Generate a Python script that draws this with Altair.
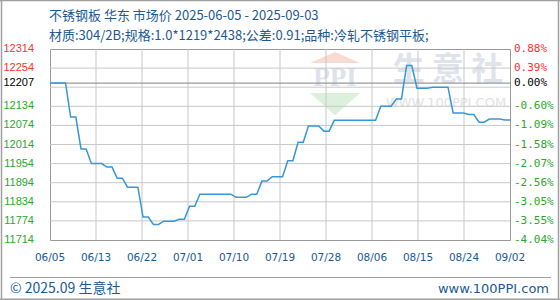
import altair as alt
import pandas as pd

# ---------------- data ----------------
start_date = "2025-06-05"
prices = [
    12207, 12207, 12207, 12207, 12100, 12100, 12000, 12000, 11954, 11954,
    11954, 11943, 11943, 11908, 11908, 11880, 11880, 11880, 11786, 11786,
    11763, 11763, 11773, 11773, 11773, 11779, 11779, 11820, 11820, 11858,
    11858, 11858, 11858, 11858, 11858, 11858, 11848, 11848, 11848, 11858,
    11858, 11899, 11899, 11913, 11913, 11913, 11963, 11963, 12021, 12021,
    12072, 12072, 12072, 12056, 12056, 12090, 12090, 12090, 12090, 12090,
    12090, 12090, 12090, 12090, 12134, 12134, 12134, 12157, 12157, 12262,
    12262, 12191, 12191, 12191, 12194, 12194, 12194, 12194, 12113, 12113,
    12113, 12108, 12108, 12084, 12084, 12094, 12094, 12094, 12091, 12091,
]
x_tick_labels = ["06/05", "06/13", "06/22", "07/01", "07/10", "07/19",
                 "07/28", "08/06", "08/15", "08/24", "09/02"]
y_label_values = [11714, 11774, 11834, 11894, 11954, 12014, 12074, 12134,
                  12207, 12254, 12314]
pct_labels = ["-4.04%", "-3.55%", "-3.05%", "-2.56%", "-2.07%", "-1.58%",
              "-1.09%", "-0.60%", "0.00%", "0.39%", "0.88%"]
grid_y = [11774, 11834, 11894, 11954, 12014, 12074, 12134, 12194, 12254]
base_price = 12207
y_min, y_max = 11714, 12314

title_text = "不锈钢板 华东 市场价 2025-06-05 - 2025-09-03"
subtitle_text = "材质:304/2B;规格:1.0*1219*2438;公差:0.91;品种:冷轧不锈钢平板;"
footer_left = "© 2025.09 生意社"
footer_right = "www.100PPI.com"

W, H = 460, 191
BLUE_TXT = "#1b5a94"
RED = "#ff3030"
GREEN = "#2aa82a"
BLACK = "#000000"
GRID = "#c8c8c8"

# ---------------- derived tables ----------------
days = list(range(len(prices)))
dates = pd.date_range(start_date, periods=len(prices), freq="D").strftime("%Y-%m-%d")
df = pd.DataFrame({"day": days, "price": prices, "date": dates})

n_int = len(x_tick_labels) - 1
step = (len(prices) - 1) / n_int
x_ticks = [round(i * step, 4) for i in range(n_int + 1)]
df_xlab = pd.DataFrame({"pos": x_ticks, "lab": x_tick_labels})
df_vgrid = pd.DataFrame({"x": x_ticks[1:-1]})
df_hgrid = pd.DataFrame({"y": grid_y})
df_base = pd.DataFrame({"y": [base_price]})
df_lab = pd.DataFrame({"v": y_label_values, "pct": pct_labels,
                       "txt": [str(v) for v in y_label_values]})
df_lab["col"] = [RED if v > base_price else (BLACK if v == base_price else GREEN)
                 for v in y_label_values]
one = alt.Data(values=[{}])

x_scale = alt.Scale(domain=[0, len(prices) - 1], nice=False, zero=False)
y_scale = alt.Scale(domain=[y_min, y_max], nice=False, zero=False)

# ---------------- watermark ----------------
wm_roof = alt.Chart(one).mark_point(
    shape="M-1,0L1,0L0,-0.44Z", filled=True, fill="#f8dcd4", strokeWidth=0,
    opacity=1, size=2500
).encode(x=alt.value(285), y=alt.value(14))
wm_ppi = alt.Chart(one).mark_text(
    font="Liberation Serif", fontSize=27, fontWeight="bold", color="#dde2ec",
    align="center", baseline="middle"
).encode(x=alt.value(285), y=alt.value(29), text=alt.value("PPI"))
wm_green = alt.Chart(one).mark_point(
    shape="M-1,0L1,0L0,0.89Z", filled=True, fill="#dcf0dc", strokeWidth=0,
    opacity=1, size=2500
).encode(x=alt.value(285), y=alt.value(44))
wm_name = alt.Chart(one).mark_text(
    font="Noto Sans CJK SC", fontSize=32, fontWeight="bold", color="#dfe3ec",
    align="center", baseline="middle"
).encode(x=alt.value(398), y=alt.value(21), text=alt.value("生  意  社"))
wm_url = alt.Chart(one).mark_text(
    font="DejaVu Sans", fontSize=13, color="#e2e2e2",
    align="center", baseline="middle"
).encode(x=alt.value(396), y=alt.value(54), text=alt.value("WWW.100PPI.COM"))

# ---------------- grid & baseline ----------------
hgrid = alt.Chart(df_hgrid).mark_rule(color=GRID, strokeWidth=1).encode(
    y=alt.Y("y:Q", scale=y_scale, axis=None))
vgrid = alt.Chart(df_vgrid).mark_rule(color=GRID, strokeWidth=1).encode(
    x=alt.X("x:Q", scale=x_scale, axis=None))
baseline = alt.Chart(df_base).mark_rule(
    color="#999999", strokeWidth=1.2
).encode(y=alt.Y("y:Q", scale=y_scale, axis=None))

# ---------------- price line ----------------
line = alt.Chart(df).mark_line(color="#3797d6", strokeWidth=1.5).encode(
    x=alt.X("day:Q", scale=x_scale, axis=None),
    y=alt.Y("price:Q", scale=y_scale, axis=None),
    tooltip=["date:N", "price:Q"],
)

# ---------------- tick labels as text marks ----------------
x_text = alt.Chart(df_xlab).mark_text(
    font="DejaVu Sans", fontSize=10.5, color=BLUE_TXT, align="center",
    baseline="middle"
).encode(
    x=alt.X("pos:Q", scale=x_scale, axis=None),
    y=alt.value(H + 18),
    text="lab:N",
)
left_text = alt.Chart(df_lab).mark_text(
    font="Liberation Sans", fontSize=11, align="right", baseline="middle"
).encode(
    x=alt.value(-16),
    y=alt.Y("v:Q", scale=y_scale, axis=None),
    text="txt:N",
    color=alt.Color("col:N", scale=None),
)
pct_text = alt.Chart(df_lab).mark_text(
    font="DejaVu Sans Mono", fontSize=11, align="left", baseline="middle"
).encode(
    x=alt.value(W + 4),
    y=alt.Y("v:Q", scale=y_scale, axis=None),
    text="pct:N",
    color=alt.Color("col:N", scale=None),
)

# ---------------- texts & frame ----------------
title = alt.Chart(one).mark_text(
    font="Noto Sans CJK SC", fontSize=13, color=BLUE_TXT, align="left",
    baseline="middle").encode(x=alt.value(-1), y=alt.value(-33),
                              text=alt.value(title_text))
subtitle = alt.Chart(one).mark_text(
    font="Noto Sans CJK SC", fontSize=13, color=BLUE_TXT, align="left",
    baseline="middle").encode(x=alt.value(-1), y=alt.value(-13),
                              text=alt.value(subtitle_text))
foot_line = alt.Chart(one).mark_rule(color="#a0a0a0", strokeWidth=1).encode(
    x=alt.value(-40), x2=alt.value(501), y=alt.value(228.5))
foot_l = alt.Chart(one).mark_text(
    font="Noto Sans CJK SC", fontSize=14, color=BLUE_TXT, align="left",
    baseline="middle").encode(x=alt.value(-40), y=alt.value(239.5),
                              text=alt.value(footer_left))
foot_r = alt.Chart(one).mark_text(
    font="DejaVu Sans", fontSize=13, color=BLUE_TXT, align="right",
    baseline="middle").encode(x=alt.value(499), y=alt.value(239.5),
                              text=alt.value(footer_right))
frame_l = alt.Chart(one).mark_rule(color="#a0a0a0", strokeWidth=1.5).encode(
    x=alt.value(-48.5), x2=alt.value(-48.5), y=alt.value(-49), y2=alt.value(251))
frame_r = alt.Chart(one).mark_rule(color="#a0a0a0", strokeWidth=1.5).encode(
    x=alt.value(508.5), x2=alt.value(508.5), y=alt.value(-49), y2=alt.value(251))
frame_t = alt.Chart(one).mark_rule(color="#a0a0a0", strokeWidth=1.5).encode(
    x=alt.value(-50), x2=alt.value(510), y=alt.value(-48.5), y2=alt.value(-48.5))
frame_b = alt.Chart(one).mark_rule(color="#a0a0a0", strokeWidth=1.5).encode(
    x=alt.value(-50), x2=alt.value(510), y=alt.value(250.3), y2=alt.value(250.3))

chart = alt.layer(
    wm_roof, wm_ppi, wm_green, wm_name, wm_url,
    hgrid, vgrid, baseline, line, x_text, left_text, pct_text,
    title, subtitle, foot_line, foot_l, foot_r,
    frame_l, frame_r, frame_t, frame_b,
).properties(
    width=W, height=H,
    padding={"left": 50, "top": 49, "right": 50, "bottom": 60},
    autosize=alt.AutoSizeParams(type="none"),
    background="white",
).configure_view(stroke="#999999", strokeWidth=1)

chart.save("out.html", embed_options={"renderer": "svg", "actions": False})
